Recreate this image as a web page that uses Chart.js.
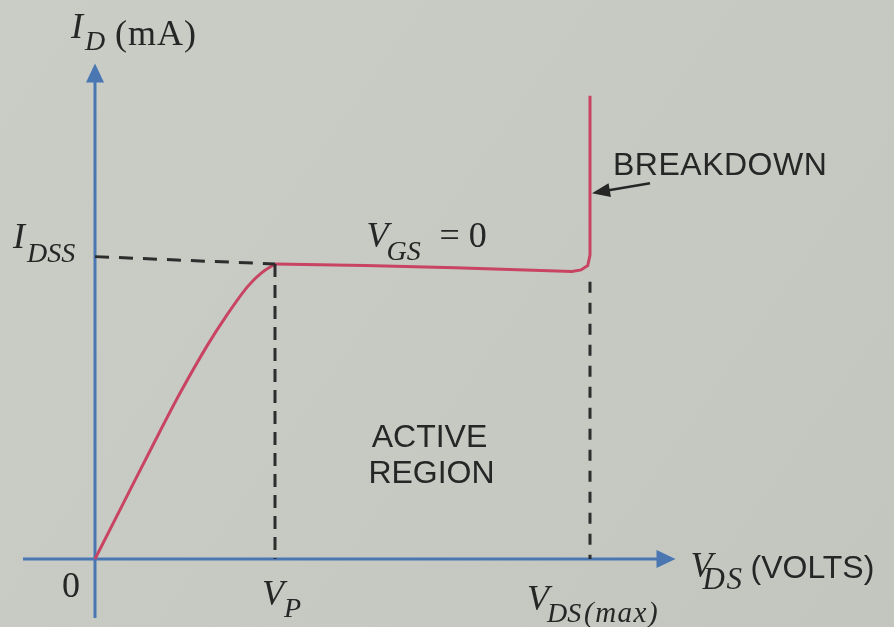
<!DOCTYPE html>
<html>
<head>
<meta charset="utf-8">
<script src="https://cdn.jsdelivr.net/npm/chart.js@4.4.1/dist/chart.umd.min.js"></script>
<style>
  html, body { margin: 0; padding: 0; background: #c7cbc4; }
  canvas { display: block; }
</style>
</head>
<body>
<canvas id="chart" width="894" height="627"></canvas>
<script>
// JFET drain characteristic for V_GS = 0 (arbitrary units)
const VP = 4;         // pinch-off voltage
const VDS_MAX = 11;   // breakdown voltage
const IDSS = 10;      // drain saturation current

// ohmic region, 0 .. V_P
const ohmicVds = [0, 0.6, 1.3, 1.9, 2.5, 2.9, 3.4, 3.7, 4.0];
const ohmicId  = [0, 1.8, 3.9, 5.65, 7.25, 8.2, 9.25, 9.7, 10.0];

// active region, then breakdown at V_DS(max)
const activeVds = [4.0, 6.0, 8.0, 10.6, 10.8, 10.95, 11.0, 11.0];
const activeId  = [10.0, 9.95, 9.87, 9.75, 9.8, 9.95, 10.3, 15.7];

// guide levels
const idssGuideId = [10.25, 10.0];
const vpGuideTop = 10.0;
const vdsMaxGuideTop = 9.4;
const breakdownArrowId = 12.4;

// axis extents
const xAxisFrom = -1.6, xAxisTo = 12.9;
const yAxisFrom = -2.0, yAxisTo = 16.8;

const RED = '#c94363';
const BLUE = '#4a76b2';
const INK = '#262626';
const DASH = '#2d2d2d';

const pts = (xs, ys) => xs.map((x, i) => ({ x, y: ys[i] }));

const lineSet = (data, color, width, dash, smooth) => ({
  data, borderColor: color, borderWidth: width, borderDash: dash || [],
  showLine: true, pointRadius: 0, fill: false,
  tension: smooth ? 0.4 : 0,
  cubicInterpolationMode: smooth ? 'monotone' : 'default'
});

const background = {
  id: 'paper',
  beforeDraw(chart) {
    const { ctx, width, height } = chart;
    const g = ctx.createLinearGradient(0, 0, width, height);
    g.addColorStop(0, '#c9cdc6');
    g.addColorStop(0.5, '#c6cac3');
    g.addColorStop(1, '#c2c6bf');
    ctx.save();
    ctx.fillStyle = g;
    ctx.fillRect(0, 0, width, height);
    ctx.restore();
  }
};

const axesPlugin = {
  id: 'arrowAxes',
  beforeDatasetsDraw(chart) {
    const { ctx, scales: { x, y } } = chart;
    const x0 = x.getPixelForValue(0), y0 = y.getPixelForValue(0);
    const xa = x.getPixelForValue(xAxisFrom), xb = x.getPixelForValue(xAxisTo);
    const ya = y.getPixelForValue(yAxisFrom), yb = y.getPixelForValue(yAxisTo);
    ctx.save();
    ctx.strokeStyle = BLUE;
    ctx.fillStyle = BLUE;
    ctx.lineWidth = 3;
    ctx.beginPath();
    ctx.moveTo(xa, y0); ctx.lineTo(xb - 14, y0);
    ctx.moveTo(x0, ya); ctx.lineTo(x0, yb + 14);
    ctx.stroke();
    // arrowheads
    ctx.beginPath();
    ctx.moveTo(xb, y0); ctx.lineTo(xb - 19, y0 - 9); ctx.lineTo(xb - 19, y0 + 9); ctx.closePath();
    ctx.fill();
    ctx.beginPath();
    ctx.moveTo(x0, yb); ctx.lineTo(x0 - 9, yb + 19); ctx.lineTo(x0 + 9, yb + 19); ctx.closePath();
    ctx.fill();
    ctx.restore();
  }
};

function put(ctx, s, px, py, font, align, spacing) {
  ctx.font = font;
  ctx.textAlign = align || 'left';
  ctx.letterSpacing = (spacing || 0) + 'px';
  ctx.fillText(s, px, py);
  ctx.letterSpacing = '0px';
}

const SERIF = "'Liberation Serif', 'Times New Roman', serif";
const SANS = "'Liberation Sans', Arial, sans-serif";
const MAIN_I = 'italic 36px ' + SERIF;
const SUB_I = 'italic 28px ' + SERIF;
const UPRIGHT = '36px ' + SERIF;
const CAPS = '32px ' + SANS;

const labelsPlugin = {
  id: 'labels',
  afterDatasetsDraw(chart) {
    const { ctx, scales: { x, y } } = chart;
    const x0 = x.getPixelForValue(0), y0 = y.getPixelForValue(0);
    const yTop = y.getPixelForValue(yAxisTo);
    const xEnd = x.getPixelForValue(xAxisTo);
    const xp = x.getPixelForValue(VP);
    const xm = x.getPixelForValue(VDS_MAX);
    const yi = y.getPixelForValue(IDSS);
    const mid = (xp + xm) / 2;

    ctx.save();
    ctx.fillStyle = INK;
    ctx.textBaseline = 'alphabetic';

    // I_D (mA)
    put(ctx, 'I', x0 - 24, yTop - 25, MAIN_I);
    put(ctx, 'D', x0 - 10, yTop - 13, SUB_I);
    put(ctx, '(mA)', x0 + 20, yTop - 18, UPRIGHT, 'left', 1);

    // I_DSS
    put(ctx, 'I', x0 - 82, yi - 16, MAIN_I);
    put(ctx, 'DSS', x0 - 68, yi - 2, SUB_I);

    // origin
    put(ctx, '0', x0 - 33, y0 + 38, UPRIGHT);

    // V_P
    put(ctx, 'V', xp - 13, y0 + 46, MAIN_I);
    put(ctx, 'P', xp + 9, y0 + 58, SUB_I);

    // V_DS(max)
    put(ctx, 'V', xm - 63, y0 + 51, MAIN_I);
    put(ctx, 'DS', xm - 43, y0 + 63, SUB_I);
    put(ctx, '(max)', xm - 6, y0 + 63, 'italic 29px ' + SERIF, 'left', 1.5);

    // V_GS = 0
    put(ctx, 'V', mid - 66, yi - 17, MAIN_I);
    put(ctx, 'GS', mid - 46, yi - 4, SUB_I);
    put(ctx, '= 0', mid + 7, yi - 17, UPRIGHT);

    // V_DS (VOLTS)
    put(ctx, 'V', xEnd + 15, y0 + 18, MAIN_I);
    put(ctx, 'DS', xEnd + 27, y0 + 30, 'italic 31px ' + SERIF, 'left', 1.5);
    put(ctx, '(VOLTS)', xEnd + 75, y0 + 19, CAPS);

    // region captions
    put(ctx, 'ACTIVE', mid - 3, y0 - 112, CAPS, 'center');
    put(ctx, 'REGION', mid - 1, y0 - 76, CAPS, 'center');

    // breakdown note with arrow
    const ya = y.getPixelForValue(breakdownArrowId);
    put(ctx, 'BREAKDOWN', xm + 23, ya - 18, CAPS, 'left', 0.5);
    const tx = xm + 2, ty = ya;
    const sx = xm + 60, sy = ya - 10;
    const ang = Math.atan2(sy - ty, sx - tx);
    ctx.strokeStyle = INK;
    ctx.lineWidth = 2.5;
    ctx.beginPath();
    ctx.moveTo(sx, sy);
    ctx.lineTo(tx + 14 * Math.cos(ang), ty + 14 * Math.sin(ang));
    ctx.stroke();
    ctx.beginPath();
    ctx.moveTo(tx, ty);
    ctx.lineTo(tx + 18 * Math.cos(ang) - 7 * Math.sin(ang), ty + 18 * Math.sin(ang) + 7 * Math.cos(ang));
    ctx.lineTo(tx + 18 * Math.cos(ang) + 7 * Math.sin(ang), ty + 18 * Math.sin(ang) - 7 * Math.cos(ang));
    ctx.closePath();
    ctx.fill();

    ctx.restore();
  }
};

new Chart(document.getElementById('chart'), {
  type: 'scatter',
  data: {
    datasets: [
      lineSet(pts([0, VP], idssGuideId), DASH, 3, [14, 10]),
      lineSet(pts([VP, VP], [vpGuideTop, 0]), DASH, 3, [13, 8]),
      lineSet(pts([VDS_MAX, VDS_MAX], [vdsMaxGuideTop, 0]), DASH, 3, [11, 10]),
      lineSet(pts(ohmicVds, ohmicId), RED, 3, null, true),
      lineSet(pts(activeVds, activeId), RED, 3, null, false)
    ]
  },
  options: {
    responsive: false,
    animation: false,
    layout: { padding: 0 },
    plugins: { legend: { display: false }, tooltip: { enabled: false } },
    scales: {
      x: { type: 'linear', min: -95 / 45, max: (894 - 95) / 45, display: false },
      y: { type: 'linear', min: -(627 - 559) / 29.5, max: 559 / 29.5, display: false }
    }
  },
  plugins: [background, axesPlugin, labelsPlugin]
});
</script>
</body>
</html>
